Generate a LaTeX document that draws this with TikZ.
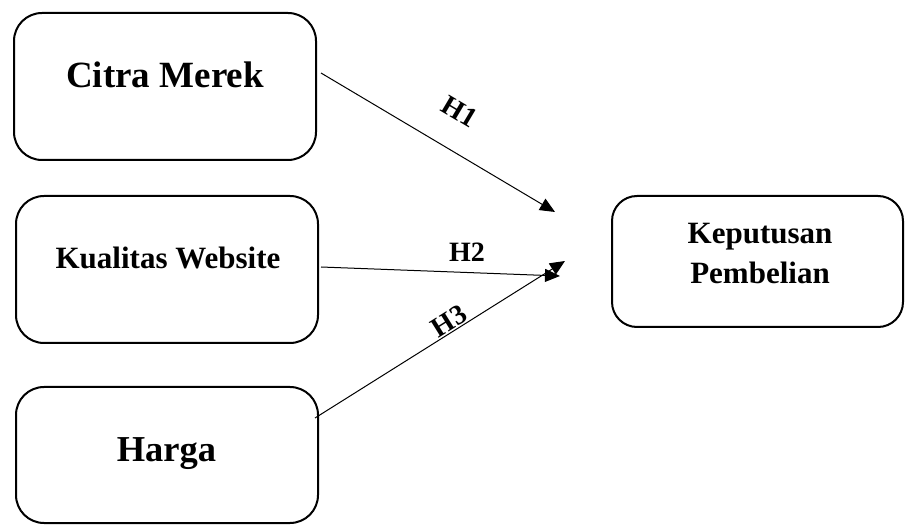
\documentclass[tikz,border=0pt]{standalone}
\usepackage{fontspec}
\setmainfont{Liberation Serif}
\usetikzlibrary{arrows.meta}
\begin{document}
\begin{tikzpicture}[x=1pt,y=-1pt,
  box/.style={draw,line width=2pt,rounded corners=28pt,rectangle,inner sep=0pt},
  txt/.style={inner sep=0pt,anchor=base,font=\bfseries},
  hyp/.style={inner sep=0pt,font=\bfseries\fontsize{28}{32}\selectfont},
  arr/.style={line width=1pt,-{Triangle[length=15pt,width=13pt]}}]
\useasboundingbox (0,0) rectangle (908,526);
% boxes
\node[box,minimum width=302pt,minimum height=147pt] (b1) at (165,86.5) {};
\node[box,minimum width=302pt,minimum height=147pt] (b2) at (167,269.5) {};
\node[box,minimum width=302pt,minimum height=136pt] (b3) at (167,455) {};
\node[box,rounded corners=25pt,minimum width=291pt,minimum height=131pt] (b4) at (757.5,261.5) {};
% texts
\node[txt,font=\bfseries\fontsize{37}{44}\selectfont] (t1) at (165,88) {Citra Merek};
\node[txt,font=\bfseries\fontsize{31}{38}\selectfont] (t2) at (168,269) {Kualitas Website};
\node[txt,font=\bfseries\fontsize{36.5}{44}\selectfont] (t3) at (166.5,462) {Harga};
\node[txt,font=\bfseries\fontsize{31}{38}\selectfont] (t4a) at (760,244) {Keputusan};
\node[txt,font=\bfseries\fontsize{31}{38}\selectfont] (t4b) at (760,284) {Pembelian};
% connector ends
\coordinate (s1) at (321,73);
\coordinate (e1) at (555,212);
\coordinate (s2) at (321,267);
\coordinate (e2) at (560,276);
\coordinate (s3) at (315,418);
\coordinate (e3) at (565,261);
\draw[arr] (s1) -- (e1);
\draw[arr] (s2) -- (e2);
\draw[arr] (s3) -- (e3);
% labels
\node[hyp,rotate=-30.7] (h1) at (459.5,112) {H1};
\node[hyp] (h2) at (467,252) {H2};
\node[hyp,rotate=32] (h3) at (449,321) {H3};
\end{tikzpicture}
\end{document}
